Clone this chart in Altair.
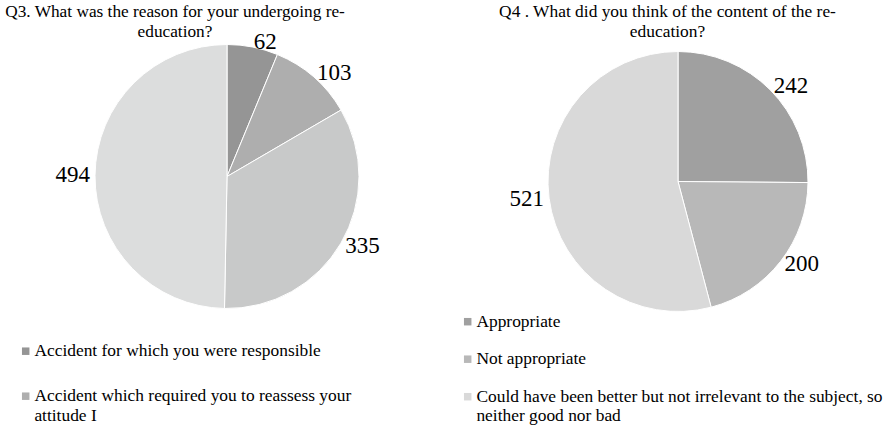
import math
import altair as alt
import pandas as pd

# ---- data ----
q3_title = ["Q3. What was the reason for your undergoing re-", "education?"]
q3_categories = [
    "Accident for which you were responsible",
    "Accident which required you to reassess your|attitude I",
    "Reason 3",
    "Reason 4",
]
q3_values = [62, 103, 335, 494]
q3_colors = ["#959595", "#aeaeae", "#c8c9c9", "#dcdddd"]
q3_legend_shown = q3_categories[:2]

q4_title = ["Q4 . What did you think of the content of the re-", "education?"]
q4_categories = [
    "Appropriate",
    "Not appropriate",
    "Could have been better but not irrelevant to the subject, so|neither good nor bad",
]
q4_values = [242, 200, 521]
q4_colors = ["#a0a0a0", "#b8b8b8", "#d9d9d9"]

FONT = "Liberation Serif"
LEG = 17.4


def pie(cats, vals, colors, title, title_size, shown, field, width, height,
        cx, cy, r, lx, ly, row_pad, title_dx):
    df = pd.DataFrame({field: cats, "value": vals, "idx": list(range(len(cats)))})
    theta_scale = alt.Scale(domain=[0, 1], range=[0, 2 * math.pi])
    base = (
        alt.Chart(df)
        .transform_joinaggregate(total="sum(value)")
        .transform_window(cum="sum(value)", sort=[alt.SortField("idx")],
                          frame=[None, 0])
        .transform_calculate(
            start="(datum.cum - datum.value) / datum.total",
            end="datum.cum / datum.total",
            mid="(datum.cum - datum.value / 2) / datum.total",
        )
        .encode(x=alt.value(cx), y=alt.value(cy))
    )
    arcs = base.mark_arc(outerRadius=r, stroke="white", strokeWidth=1).encode(
        theta=alt.Theta("start:Q", stack=None, scale=theta_scale),
        theta2="end:Q",
        color=alt.Color(
            f"{field}:N",
            scale=alt.Scale(domain=cats, range=colors),
            legend=alt.Legend(
                orient="none",
                legendX=lx,
                legendY=ly,
                title=None,
                values=shown,
                symbolType="square",
                symbolSize=56,
                symbolStrokeWidth=0,
                labelFont=FONT,
                labelFontSize=LEG,
                labelColor="black",
                labelLimit=700,
                labelOffset=0,
                rowPadding=row_pad,
                padding=0,
                labelExpr="split(datum.label, '|')",
            ),
        ),
    )
    lab_props = dict(radius=r + 5, font=FONT, fontSize=23, color="black",
                     baseline="middle")
    right_labels = (
        base.transform_filter("datum.mid < 0.5")
        .mark_text(align="left", **lab_props)
        .encode(theta=alt.Theta("mid:Q", stack=None, scale=theta_scale),
                text="value:Q")
    )
    left_labels = (
        base.transform_filter("datum.mid >= 0.5")
        .mark_text(align="right", **lab_props)
        .encode(theta=alt.Theta("mid:Q", stack=None, scale=theta_scale),
                text="value:Q")
    )
    return alt.layer(arcs, right_labels, left_labels).properties(
        width=width,
        height=height,
        title=alt.TitleParams(
            text=title, font=FONT, fontSize=title_size, fontWeight="normal",
            color="black", anchor="middle", lineHeight=20, offset=-28,
            frame="group", dx=title_dx,
        ),
    )


VIEW_TOP = 12.5
H = 410
left = pie(q3_categories, q3_values, q3_colors, q3_title, 17.3, q3_legend_shown,
           "reason", 385, H, 227, 177 - VIEW_TOP, 132,
           17, 330.5, 26, -17.5)
right = pie(q4_categories, q4_values, q4_colors, q4_title, 17.4, q4_categories,
            "opinion", 441, H, 228, 182 - VIEW_TOP, 130,
            9, 301, 18.5, -3)

chart = (
    alt.hconcat(left, right, spacing=65)
    .resolve_scale(color="independent")
    .resolve_legend(color="independent")
    .properties(padding={"top": 2, "left": 0, "right": 0, "bottom": 0},
                background="white")
    .configure_view(stroke=None)
)

chart.save("out.html", embed_options={"renderer": "svg", "actions": False})
